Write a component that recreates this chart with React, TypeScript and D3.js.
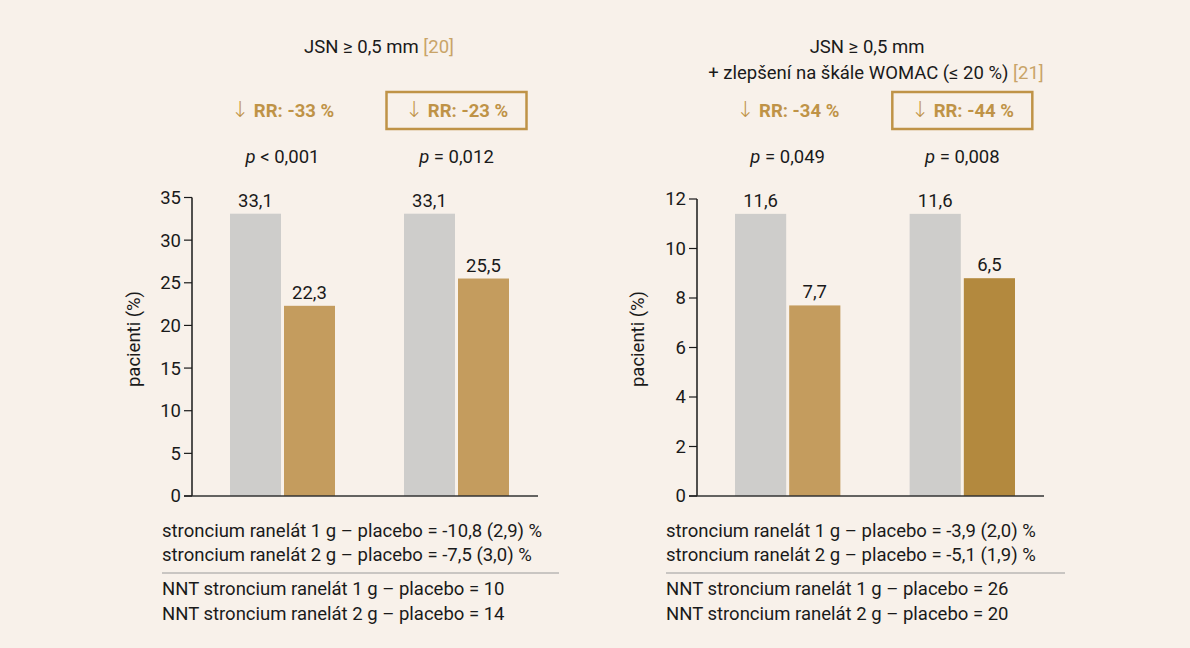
import React from "react";
import * as d3 from "d3";

const groups = ["g1", "g2"];
const series = ["placebo", "sr"];

const leftValues = [33.1, 22.3, 33.1, 25.5];
const leftLabels = ["33,1", "22,3", "33,1", "25,5"];
const leftTicks = [0, 5, 10, 15, 20, 25, 30, 35];

const rightValues = [11.4, 7.7, 11.4, 8.8];
const rightLabels = ["11,6", "7,7", "11,6", "6,5"];
const rightTicks = [0, 2, 4, 6, 8, 10, 12];

const leftRR = ["-33 %", "-23 %"];
const rightRR = ["-34 %", "-44 %"];
const leftP = ["< 0,001", "= 0,012"];
const rightP = ["= 0,049", "= 0,008"];

const leftNotes = [
  "stroncium ranelát 1 g – placebo = -10,8 (2,9) %",
  "stroncium ranelát 2 g – placebo = -7,5 (3,0) %",
];
const leftNNT = [
  "NNT stroncium ranelát 1 g – placebo = 10",
  "NNT stroncium ranelát 2 g – placebo = 14",
];
const rightNotes = [
  "stroncium ranelát 1 g – placebo = -3,9 (2,0) %",
  "stroncium ranelát 2 g – placebo = -5,1 (1,9) %",
];
const rightNNT = [
  "NNT stroncium ranelát 1 g – placebo = 26",
  "NNT stroncium ranelát 2 g – placebo = 20",
];

const BG = "#f8f1ea";
const GREY = "#cecdcb";
const TAN = "#c49c5e";
const DARK = "#b3893e";
const GOLD = "#bf9347";
const REF = "#c9a468";
const TEXT = "#1a1a1a";
const FONT = "Roboto, 'Noto Sans', sans-serif";
const FS = 18.5;

type PanelProps = {
  axisX: number;
  groupStart: number;
  groupEnd: number;
  baseRight: number;
  yTop: number;
  maxV: number;
  ticks: number[];
  values: number[];
  labels: string[];
  colors: string[];
  rr: string[];
  boxed: boolean[];
  pvals: string[];
  notes: string[];
  nnt: string[];
  noteX: number;
  noteEnd: number;
  yLabelX: number;
};

function Panel(p: PanelProps) {
  const y = d3.scaleLinear().domain([0, p.maxV]).range([496, p.yTop]);
  const xg = d3
    .scaleBand<string>()
    .domain(groups)
    .range([p.groupStart, p.groupEnd])
    .paddingInner(0.3966)
    .paddingOuter(0);
  const xs = d3
    .scaleBand<string>()
    .domain(series)
    .range([0, xg.bandwidth()])
    .paddingInner(0.0556)
    .paddingOuter(0);
  return (
    <g fontFamily={FONT}>
      {groups.map((g, i) => {
        const cx = (xg(g) as number) + xg.bandwidth() / 2;
        return (
          <g key={"h" + g}>
            {p.boxed[i] && (
              <rect
                x={cx - 70}
                y={92}
                width={140}
                height={37}
                fill="none"
                stroke={GOLD}
                strokeWidth={2.5}
              />
            )}
            <text
              x={cx}
              y={117}
              textAnchor="middle"
              fontSize={FS}
              fill={GOLD}
              fontWeight={700}
            >
              <tspan fontWeight={300} fontSize={22} fontFamily="'DejaVu Sans', sans-serif">↓</tspan> RR: {p.rr[i]}
            </text>
            <text x={cx} y={163} textAnchor="middle" fontSize={FS} fill={TEXT}>
              <tspan fontStyle="italic">p</tspan> {p.pvals[i]}
            </text>
          </g>
        );
      })}
      {groups.map((g, gi) =>
        series.map((s, si) => {
          const idx = gi * 2 + si;
          const x = (xg(g) as number) + (xs(s) as number);
          const v = p.values[idx];
          return (
            <g key={g + s}>
              <rect
                x={x}
                y={y(v)}
                width={xs.bandwidth()}
                height={y(0) - y(v)}
                fill={p.colors[idx]}
              />
              <text
                x={x + xs.bandwidth() / 2}
                y={y(v) - 7}
                textAnchor="middle"
                fontSize={FS}
                fill={TEXT}
              >
                {p.labels[idx]}
              </text>
            </g>
          );
        })
      )}
      <line
        x1={p.axisX}
        x2={p.axisX}
        y1={y(p.maxV)}
        y2={y(0)}
        stroke={TEXT}
        strokeWidth={1.5}
      />
      <line
        x1={p.axisX - 8}
        x2={p.baseRight}
        y1={y(0)}
        y2={y(0)}
        stroke="#333"
        strokeWidth={1.5}
      />
      {p.ticks.map((t) => (
        <g key={"t" + t}>
          <line
            x1={p.axisX - 8}
            x2={p.axisX}
            y1={y(t)}
            y2={y(t)}
            stroke={TEXT}
            strokeWidth={1.2}
          />
          <text
            x={p.axisX - 11}
            y={y(t)}
            dy="0.35em"
            textAnchor="end"
            fontSize={FS}
            fill={TEXT}
          >
            {t}
          </text>
        </g>
      ))}
      <text
        transform={`translate(${p.yLabelX},339) rotate(-90)`}
        textAnchor="middle"
        fontSize={FS}
        fill={TEXT}
      >
        pacienti (%)
      </text>
      {p.notes.map((n, i) => (
        <text key={"n" + i} x={p.noteX} y={537 + i * 24} fontSize={FS} fill={TEXT}>
          {n}
        </text>
      ))}
      <line
        x1={p.noteX}
        x2={p.noteEnd}
        y1={573}
        y2={573}
        stroke="#9a9a9a"
        strokeWidth={1}
      />
      {p.nnt.map((n, i) => (
        <text key={"m" + i} x={p.noteX} y={595 + i * 25} fontSize={FS} fill={TEXT}>
          {n}
        </text>
      ))}
    </g>
  );
}

export default function App() {
  return (
    <svg
      width={1190}
      height={648}
      style={{ position: "absolute", left: 0, top: 0, display: "block" }}
    >
      <rect x={0} y={0} width={1190} height={648} fill={BG} />
      <text x={379} y={53} textAnchor="middle" fontSize={FS} fill={TEXT} fontFamily={FONT}>
        JSN ≥ 0,5 mm <tspan fill={REF}>[20]</tspan>
      </text>
      <text x={867} y={53} textAnchor="middle" fontSize={FS} fill={TEXT} fontFamily={FONT}>
        JSN ≥ 0,5 mm
      </text>
      <text x={876} y={79} textAnchor="middle" fontSize={FS} fill={TEXT} fontFamily={FONT}>
        + zlepšení na škále WOMAC (≤ 20 %) <tspan fill={REF}>[21]</tspan>
      </text>
      <Panel
        axisX={192}
        groupStart={230}
        groupEnd={509}
        baseRight={538}
        yTop={197.5}
        maxV={35}
        ticks={leftTicks}
        values={leftValues}
        labels={leftLabels}
        colors={[GREY, TAN, GREY, TAN]}
        rr={leftRR}
        boxed={[false, true]}
        pvals={leftP}
        notes={leftNotes}
        nnt={leftNNT}
        noteX={162}
        noteEnd={559}
        yLabelX={140}
      />
      <Panel
        axisX={697}
        groupStart={735}
        groupEnd={1015}
        baseRight={1044}
        yTop={199}
        maxV={12}
        ticks={rightTicks}
        values={rightValues}
        labels={rightLabels}
        colors={[GREY, TAN, GREY, DARK]}
        rr={rightRR}
        boxed={[false, true]}
        pvals={rightP}
        notes={rightNotes}
        nnt={rightNNT}
        noteX={666}
        noteEnd={1065}
        yLabelX={644}
      />
    </svg>
  );
}
